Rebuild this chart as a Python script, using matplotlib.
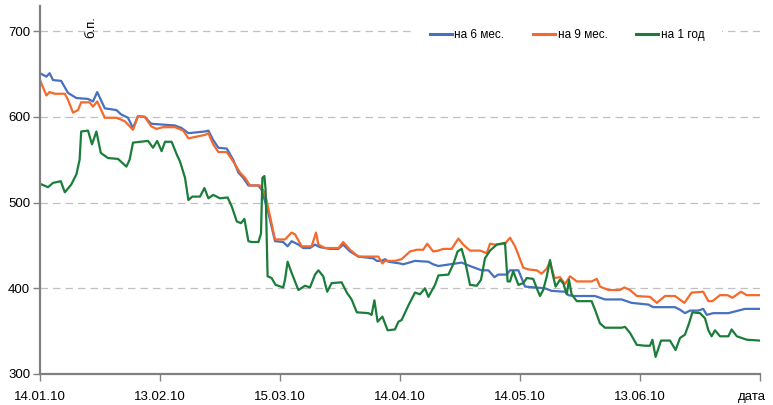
import numpy as np
import pandas as pd
import matplotlib
matplotlib.use("Agg")
import matplotlib.pyplot as plt

plt.rcParams['font.family'] = ['Liberation Sans Narrow', 'Liberation Sans', 'DejaVu Sans']

# days counted from 14.01.2010, values in basis points
start = pd.Timestamp('2010-01-14')

days_6m = [0, 1.6, 2.4, 3.25, 5.3, 7, 9.1, 12, 13.25, 14.3, 16.2, 19.1, 20.25, 22, 23.25, 24.5,
           26.2, 27.8, 30.75, 33.75, 35.4, 37.1, 41.25, 42.1, 43.3, 44.6, 46.7, 48.3, 49.6, 50.8,
           52.1, 54.6, 55.4, 57.1, 58.75, 60.8, 61.9, 62.9, 64.6, 65.8, 67.5, 68.75, 70, 72.5,
           74.6, 75.8, 77.5, 79.6, 83.3, 84.2, 85.4, 86.25, 87.1, 90, 90.8, 93.75, 97.1, 98.3,
           99.6, 102.5, 105.4, 107.5, 110.4, 112.1, 113.6, 114.6, 116.7, 117.5, 119.6, 121.25,
           123.75, 126.25, 127.9, 131.25, 132.1, 133.3, 138.75, 141.25, 145.4, 147.9, 152.1,
           153.3, 158.75, 160, 161.25, 162.5, 164.6, 165.8, 166.7, 168.3, 172.1, 173.75, 176.25, 180]
vals_6m = [651, 647, 651, 643, 642, 628, 622, 621, 618, 629, 610, 608, 603, 599, 587, 601,
           600, 592, 591, 590, 587, 581, 583, 584, 573, 564, 563, 550, 535, 529,
           520, 520, 515, 488, 455, 454, 449, 455, 451, 447, 447, 451, 448, 446,
           446, 451, 443, 437, 435, 432, 432, 434, 431, 429, 428, 432, 431, 428,
           426, 428, 430, 426, 421, 421, 413, 416, 416, 421, 421, 402,
           401, 400, 397, 396, 392, 391, 391, 387, 387, 383, 381,
           378, 378, 375, 371, 374, 374, 376, 369, 371, 371, 373, 376, 376]

days_9m = [0, 1.6, 2.4, 3.7, 6.2, 7, 8.25, 9.5, 10.3, 12.4, 13.25, 14.3, 16.2, 19.1, 21.2, 23.25,
           24.5, 26.2, 27.8, 29.1, 30.75, 33.75, 35.8, 37.1, 41.25, 42.1, 43.3, 44.6, 46.7, 48.3,
           50, 51.25, 52.5, 55, 56.25, 58.75, 61.25, 62.9, 63.75, 65.4, 67.9, 69, 69.6, 71.25,
           74.6, 75.8, 77.5, 79.6, 84.6, 85.6, 86.25, 88.75, 90.4, 92.5, 94.2, 95.8, 96.8, 98.3,
           99.6, 100.8, 102.9, 104.6, 105.8, 107.5, 110, 111.7, 112.5, 113.75, 116.25, 117.5,
           118.75, 119.6, 120.8, 122.1, 124.2, 125.4, 126.7, 127.5, 128.6, 130, 131.25, 132.5,
           134.2, 137.9, 139.2, 140, 142.1, 145, 146.1, 147.5, 149.2, 152.5, 154.2, 156.25,
           158.75, 161.1, 162.9, 165.8, 167.1, 168.1, 170, 171.9, 173.1, 175.25, 176.7, 180]
vals_9m = [643, 625, 629, 627, 627, 620, 605, 608, 617, 617, 612, 618, 599, 599, 595, 585,
           601, 600, 589, 586, 588, 588, 584, 575, 579, 581, 568, 559, 559, 548,
           535, 529, 520, 520, 511, 457, 457, 465, 463, 449, 449, 465, 451, 447,
           447, 454, 445, 437, 437, 429, 432, 432, 434, 443, 445, 445, 452, 443,
           444, 446, 446, 458, 451, 444, 444, 441, 452, 451, 452, 459,
           449, 439, 424, 422, 421, 417, 423, 431, 412, 413, 405, 414,
           408, 408, 411, 402, 398, 398, 401, 398, 391, 390, 383, 391,
           391, 383, 395, 396, 385, 385, 392, 392, 389, 396, 392, 392]

days_1y = [0, 2, 3.25, 5.2, 6.2, 7.8, 9.1, 9.9, 10.3, 12, 13, 14.1, 15.2, 17, 19.5, 21.6, 22.4,
           23.25, 27, 28.25, 29.3, 30.4, 31.25, 32.9, 34.2, 35, 36.25, 37.1, 38.1, 40, 41.1,
           42.1, 43.3, 45, 46.9, 47.9, 49.2, 50.25, 51.1, 52.1, 52.9, 54.6, 55.25, 55.6, 56.1,
           56.4, 56.9, 57.9, 58.9, 60.8, 61.25, 61.9, 62.9, 64.6, 66.25, 67.5, 68.75, 69.6,
           70.8, 71.8, 72.9, 75.4, 76.7, 77.9, 79.2, 82.1, 82.9, 83.6, 84.4, 85.6, 86.9, 88.75,
           89.6, 90.4, 92.1, 93.75, 95, 96.25, 97.1, 98.75, 99.6, 102.1, 103.3, 104.4, 105.4,
           106.25, 107.5, 109.2, 110.25, 111.25, 112.5, 114.2, 116.25, 116.9, 117.5, 118.3,
           119.6, 120.8, 121.7, 123.3, 124.2, 125, 125.8, 126.7, 127.5, 128.1, 128.9, 130,
           130.8, 131.7, 132.25, 132.9, 134.2, 137.9, 138.75, 140, 141.25, 145.4, 146.25,
           147.5, 149.2, 151.25, 152.5, 153.1, 153.9, 155.25, 157.5, 158.9, 160, 161.25,
           162.25, 163.1, 165, 166.25, 167.1, 167.9, 168.75, 170, 172.1, 172.9, 174.2, 176.7, 180]
vals_1y = [522, 518, 523, 525, 512, 521, 533, 550, 583, 584, 568, 583, 558, 552, 551, 542, 550,
           570, 572, 564, 572, 560, 571, 571, 556, 548, 529, 503, 507, 507, 517,
           505, 509, 505, 506, 496, 478, 476, 481, 455, 454, 454, 464, 529, 531,
           515, 414, 412, 404, 401, 410, 431, 418, 398, 403, 401, 416, 421,
           414, 396, 406, 407, 395, 387, 372, 371, 369, 386, 361, 367, 351, 352,
           361, 363, 380, 395, 393, 400, 390, 404, 415, 416, 428, 443, 446,
           432, 404, 403, 410, 435, 444, 451, 453, 408, 408, 420,
           404, 406, 412, 411, 400, 391, 398, 414, 433, 418, 402, 410,
           406, 393, 410, 393, 385, 385, 375, 359, 354, 354, 355,
           348, 334, 333, 333, 340, 320, 339, 339, 328, 342, 346,
           359, 372, 371, 365, 351, 344, 351, 344, 344, 352, 344, 340, 339]

series_names = ['на 6 мес.', 'на 9 мес.', 'на 1 год']
colors = ['#4770C0', '#F5692C', '#1B7D3A']

y_ticks = [300, 400, 500, 600, 700]
tick_dates = pd.date_range(start, periods=7, freq='30D')
tick_labels = [d.strftime('%d.%m.%y') for d in tick_dates]
tick_labels[-1] = ''

W, H = 773, 405
fig = plt.figure(figsize=(W / 100, H / 100), dpi=100)
ax = fig.add_axes([40 / W, (H - 374) / H, 720 / W, (374 - 5.5) / H])

for d, v, name, c in zip([days_6m, days_9m, days_1y], [vals_6m, vals_9m, vals_1y], series_names, colors):
    x = start + pd.to_timedelta(np.array(d), unit='D')
    ax.plot(x, v, color=c, lw=1.6, label=name, solid_joinstyle='round')

ax.set_ylim(300, 730)
ax.set_xlim(tick_dates[0], tick_dates[-1])
ax.set_yticks(y_ticks)
ax.set_xticks(tick_dates)
ax.set_xticklabels(tick_labels)
ax.yaxis.grid(True, color='#C0C0C0', linestyle=(0, (6, 4)), linewidth=0.9)
ax.set_axisbelow(True)

for s in ['top', 'right']:
    ax.spines[s].set_visible(False)
for s in ['left', 'bottom']:
    ax.spines[s].set_color('#808080')
    ax.spines[s].set_linewidth(1.6)
ax.tick_params(axis='both', colors='#808080', labelcolor='black', labelsize=9.5, length=5, width=1)
ax.tick_params(axis='y', pad=2)
ax.tick_params(axis='x', pad=7)

fig.text(752 / W, 1 - 397 / H, 'дата', ha='center', va='center', fontsize=9.5)
fig.text(91 / W, 1 - 27 / H, 'б.п.', rotation=90, ha='center', va='center', fontsize=9.5)

leg = ax.legend(loc='center', bbox_to_anchor=(567 / W, 1 - 35 / H), bbox_transform=fig.transFigure,
                ncol=3, frameon=True, fontsize=8.5, handlelength=1.86, handletextpad=0.25,
                columnspacing=2.4, borderpad=1.5)
leg.get_frame().set_facecolor('white')
leg.get_frame().set_edgecolor('none')
leg.get_frame().set_alpha(1)
leg.get_frame().set_boxstyle('square', pad=0)
for line in leg.get_lines():
    line.set_linewidth(2.2)

fig.savefig('out.png', dpi=100)
